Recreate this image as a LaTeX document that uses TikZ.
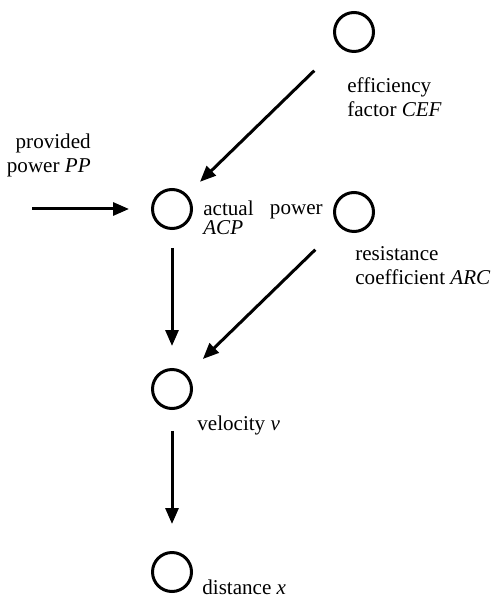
\documentclass[tikz,border=0pt]{standalone}
\usepackage{fontspec}
\setmainfont{Liberation Serif}
\usetikzlibrary{arrows.meta}

\begin{document}
\begin{tikzpicture}[x=0.02cm,y=-0.02cm,
  var/.style={circle,draw,line width=0.06cm,minimum size=0.78cm,inner sep=0},
  txt/.style={inner sep=0,anchor=base west,font=\fontsize{12}{14.2}\selectfont},
  arr/.style={-{Triangle[length=0.32cm,width=0.26cm]},line width=0.06cm}]
\useasboundingbox (0,0) rectangle (490,597);
\node [var] (cef) at (354,32) {};
\node [var] (acp) at (172,209) {};
\node [var] (arc) at (354,212) {};
\node [var] (v) at (172,389) {};
\node [var] (x) at (172,572) {};
\coordinate (pp) at (32,209);
\node [txt,align=left] (ceflabel) at (347,117) {efficiency\\factor \textit{CEF}};
\node [txt,align=right,anchor=base east] (pplabel) at (91,173) {provided\\power \textit{PP}};
\node [txt,align=left] (acplabel) at (203,235) {actual\\[-3pt]\textit{ACP}};
\node [txt,anchor=base east] (powlabel) at (323,215) {power};
\node [txt,align=left] (arclabel) at (355,284) {resistance\\[-1pt]coefficient \textit{ARC}};
\node [txt] (vlabel) at (197,430) {velocity \textit{v}};
\node [txt] (xlabel) at (202,594) {distance \textit{x}};
\draw [arr,shorten >=0.44cm] (pp) -- (acp);
\draw [arr,shorten <=0.69cm,shorten >=0.36cm] (cef) -- (acp);
\draw [arr,shorten <=0.36cm,shorten >=0.44cm] (acp) -- (v);
\draw [arr,shorten <=0.66cm,shorten >=0.44cm] (arc) -- (v);
\draw [arr,shorten <=0.42cm,shorten >=0.54cm] (v) -- (x);
\end{tikzpicture}
\end{document}
